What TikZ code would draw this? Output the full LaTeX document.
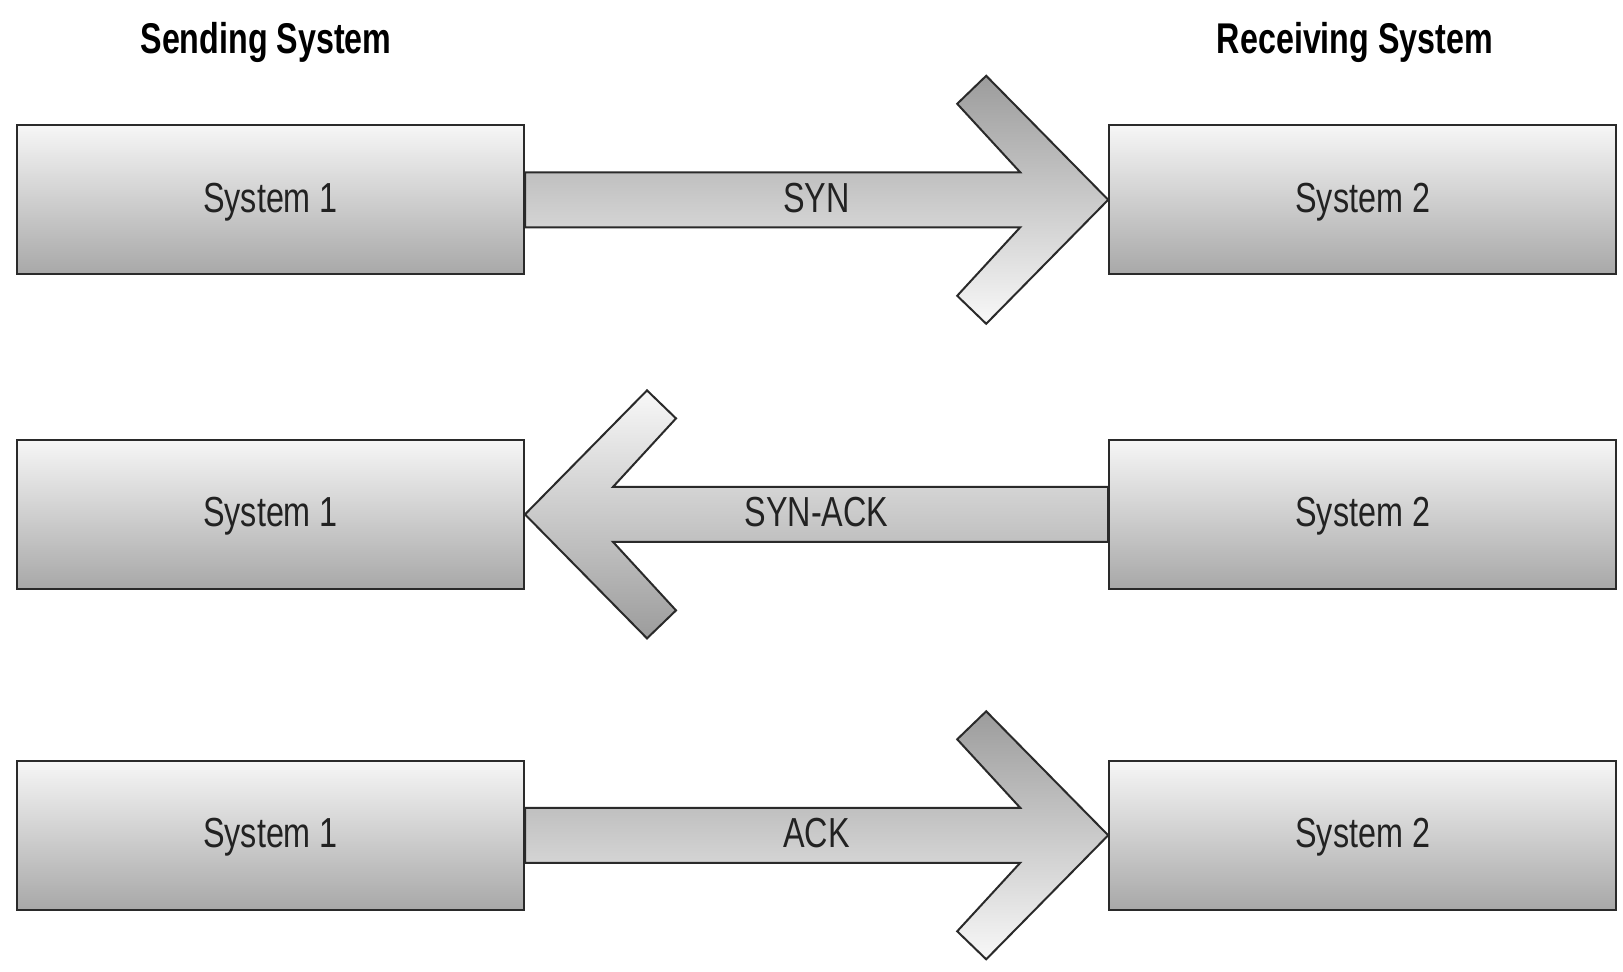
\documentclass[tikz,border=0pt]{standalone}
\usepackage{fontspec}
\setmainfont[FakeStretch=0.77]{Liberation Sans}
\newfontfamily\headfont[FakeStretch=0.75]{Liberation Sans}
\usetikzlibrary{calc}
\definecolor{boxline}{HTML}{2A2A2A}
\definecolor{boxtop}{HTML}{F6F6F6}
\definecolor{boxbot}{HTML}{A8A8A8}
\definecolor{arrdark}{HTML}{9C9C9C}
\definecolor{arrlight}{HTML}{F8F8F8}
\definecolor{txt}{HTML}{222222}
\begin{document}
\begin{tikzpicture}[x=0.5pt,y=-0.5pt,
  sysbox/.style={draw=boxline, line width=1pt, top color=boxtop, bottom color=boxbot,
    minimum width=253.5pt, minimum height=74.5pt, inner sep=0pt,
    text height=15pt, text depth=2.5pt,
    font=\fontsize{21}{21}\selectfont, text=txt},
  head/.style={font=\headfont\bfseries\fontsize{21.5}{21.5}\selectfont, text=black, inner sep=0pt,
    text height=15pt, text depth=0pt},
  lbl/.style={font=\fontsize{21}{21}\selectfont, text=txt, inner sep=0pt,
    text height=15pt, text depth=2.5pt},
  arrdown/.style={draw=boxline, line width=1pt, line join=miter, top color=arrdark, bottom color=arrlight},
  arrup/.style={draw=boxline, line width=1pt, line join=miter, top color=arrlight, bottom color=arrdark}]
\useasboundingbox (0,0) rectangle (1623,972);

% headings
\node[head] (hs) at (266,39) {Sending System};
\node[head] (hr) at (1355,39) {Receiving System};

% invisible placeholders for box positions (used by the arrows)
\path (270.5,199.8) node[sysbox, draw=none, opacity=0] (a1) {}
      (1362.7,199.8) node[sysbox, draw=none, opacity=0] (b1) {}
      (270.5,514.4) node[sysbox, draw=none, opacity=0] (a2) {}
      (1362.7,514.4) node[sysbox, draw=none, opacity=0] (b2) {}
      (270.5,835.3) node[sysbox, draw=none, opacity=0] (a3) {}
      (1362.7,835.3) node[sysbox, draw=none, opacity=0] (b3) {};

% arrow 1: SYN (right)
\path[arrdown] ($(a1.east)+(0,-27.5)$) -- ($(b1.west)+(-88,-27.5)$) -- ($(b1.west)+(-151,-96)$)
  -- ($(b1.west)+(-122,-124)$) -- (b1.west) -- ($(b1.west)+(-122,124)$) -- ($(b1.west)+(-151,96)$)
  -- ($(b1.west)+(-88,27.5)$) -- ($(a1.east)+(0,27.5)$) -- cycle;
% arrow 2: SYN-ACK (left)
\path[arrup] ($(b2.west)+(0,-27.5)$) -- ($(a2.east)+(88,-27.5)$) -- ($(a2.east)+(151,-96)$)
  -- ($(a2.east)+(122,-124)$) -- (a2.east) -- ($(a2.east)+(122,124)$) -- ($(a2.east)+(151,96)$)
  -- ($(a2.east)+(88,27.5)$) -- ($(b2.west)+(0,27.5)$) -- cycle;
% arrow 3: ACK (right)
\path[arrdown] ($(a3.east)+(0,-27.5)$) -- ($(b3.west)+(-88,-27.5)$) -- ($(b3.west)+(-151,-96)$)
  -- ($(b3.west)+(-122,-124)$) -- (b3.west) -- ($(b3.west)+(-122,124)$) -- ($(b3.west)+(-151,96)$)
  -- ($(b3.west)+(-88,27.5)$) -- ($(a3.east)+(0,27.5)$) -- cycle;

% boxes
\node[sysbox] (A1) at (a1) {System 1};
\node[sysbox] (B1) at (b1) {System 2};
\node[sysbox] (A2) at (a2) {System 1};
\node[sysbox] (B2) at (b2) {System 2};
\node[sysbox] (A3) at (a3) {System 1};
\node[sysbox] (B3) at (b3) {System 2};

% labels
\node[lbl] (l1) at ($(a1.east)!0.5!(b1.west)$) {SYN};
\node[lbl] (l2) at ($(a2.east)!0.5!(b2.west)$) {SYN-ACK};
\node[lbl] (l3) at ($(a3.east)!0.5!(b3.west)$) {ACK};
\end{tikzpicture}
\end{document}
